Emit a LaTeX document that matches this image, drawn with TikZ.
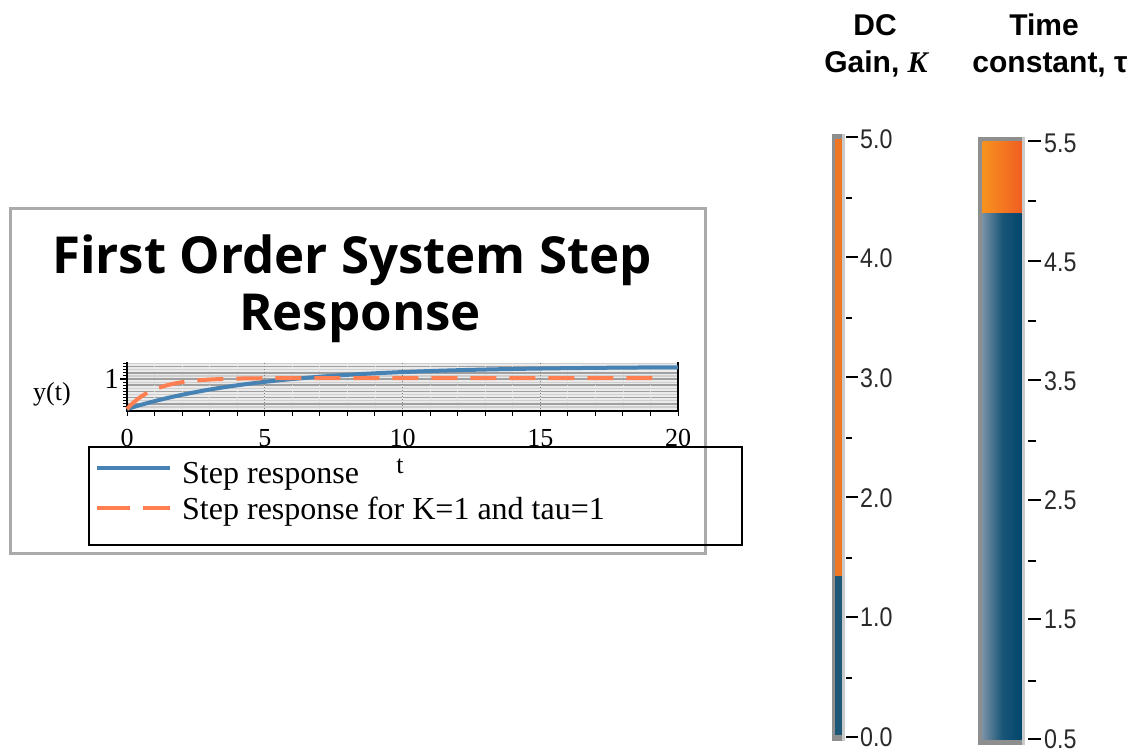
\documentclass[tikz,border=0pt]{standalone}
\usepackage{fontspec}
\setmainfont{Liberation Serif}
\newfontfamily\titlefont{Open Sans}
\newfontfamily\arialfont{Liberation Sans}
\definecolor{stepblue}{HTML}{4682B4}
\definecolor{coral}{HTML}{FF7F50}
\definecolor{plotbg}{HTML}{EBEBEB}
\definecolor{gridmaj}{HTML}{A0A0A0}
\definecolor{gridmin}{HTML}{CFCFCF}
\definecolor{framegray}{HTML}{AAAAAA}
\definecolor{barorange}{HTML}{EF7622}
\definecolor{orangeL}{HTML}{F7921E}
\definecolor{orangeR}{HTML}{F05E22}
\definecolor{barblue}{HTML}{1E5878}
\definecolor{blueL}{HTML}{7890A5}
\definecolor{blueM}{HTML}{1A5678}
\definecolor{blueR}{HTML}{00466C}
\definecolor{barframe}{HTML}{8E8E8E}
\definecolor{barlight}{HTML}{CACACA}
\definecolor{labgray}{HTML}{2A2A2A}
\tikzset{
  ticklab/.style={font=\fontsize{26}{30}\selectfont, anchor=base, inner sep=0pt},
  legtext/.style={font=\fontsize{32}{38}\selectfont, anchor=base west, inner sep=0pt},
  titletext/.style={font=\titlefont\bfseries\fontsize{51}{60}\selectfont, anchor=base, inner sep=0pt},
  headtext/.style={font=\arialfont\bfseries\fontsize{30}{36}\selectfont, anchor=base, inner sep=0pt},
  barlab/.style={font=\arialfont\fontsize{27}{30}\selectfont, text=labgray, anchor=west, inner sep=0pt},
  majtick/.style={draw=black, line width=2pt},
  mintick/.style={draw=black, line width=2pt},
}
\newcommand{\barnum}[1]{\scalebox{0.86}[1]{#1}}
\begin{document}
\begin{tikzpicture}[x=1pt,y=-1pt]
\useasboundingbox (0,0) rectangle (1147,753);
\fill[white] (0,0) rectangle (1147,753);

% ---------- outer frame ----------
\draw[framegray, line width=3pt] (10,208) rectangle (705,553);

% ---------- title ----------
\node[titletext] (title1) at (352,273) {First Order System Step};
\node[titletext] (title2) at (360,330) {Response};

% ---------- plot area ----------
\fill[plotbg] (127,363) rectangle (678,410);
\foreach \v in {0.1,0.3,...,1.5} {
  \draw[gridmin, line width=1.2pt] (127,{410-31*\v}) -- (678,{410-31*\v});
}
\foreach \v in {0.2,0.4,...,1.4} {
  \draw[gridmaj, line width=1.6pt] (127,{410-31*\v}) -- (678,{410-31*\v});
}
\foreach \t in {1,...,19} {
  \draw[white!70!gray, line width=0.8pt, dotted] ({127+27.55*\t},363) -- ({127+27.55*\t},410);
}
\foreach \t in {5,10,15} {
  \draw[gray, line width=1pt, dotted] ({127+27.55*\t},363) -- ({127+27.55*\t},410);
}
% axes
\draw[black, line width=2pt] (127,362) -- (127,411) -- (678,411) -- (678,362);
\foreach \v in {0.1,0.2,...,1.5} {
  \draw[black, line width=1pt] (123,{410-31*\v}) -- (127,{410-31*\v});
}
\draw[black, line width=1.2pt] (120,379) -- (127,379);
\foreach \t in {0,...,20} {
  \draw[black, line width=1pt] ({127+27.55*\t},411) -- ({127+27.55*\t},416);
}
% curves
\draw[stepblue, line width=4pt] plot[domain=0:20, samples=120] ({127+27.55*\x},{409-31*1.37*(1-exp(-\x/4.9))});
\draw[coral, line width=4pt, dash pattern=on 26pt off 13pt] plot[domain=0:19.3, samples=150] ({127+27.55*\x},{409-31*(1-exp(-\x))});

% tick labels
\node[ticklab] (x0) at (127,446) {0};
\node[ticklab] (x5) at (264.75,446) {5};
\node[ticklab] (x10) at (402.5,446) {10};
\node[ticklab] (x15) at (540.25,446) {15};
\node[ticklab] (x20) at (678,446) {20};
\node[ticklab, font=\fontsize{29}{32}\selectfont, anchor=base east] (y1) at (119,388) {1};
\node[ticklab, anchor=base west] (ylab) at (33,400) {y(t)};

% ---------- legend ----------
\draw[black, line width=2pt] (89,447) rectangle (742,545);
\node[ticklab] (tlab) at (400,473) {t};
\coordinate (l1a) at (97,468);
\coordinate (l1b) at (170,468);
\coordinate (l2a) at (97,508);
\coordinate (l2b) at (170,508);
\draw[stepblue, line width=4pt] (l1a) -- (l1b);
\draw[coral, line width=4pt, dash pattern=on 33pt off 13pt] (l2a) -- (l2b);
\node[legtext] (leg1) at (182,483) {Step response};
\node[legtext] (leg2) at (182,519) {Step response for K=1 and tau=1};

% ---------- colour bar: DC gain ----------
\node[headtext] (dc1) at (875,35) {DC};
\node[headtext] (dc2) at (876,72) {Gain, {\rmfamily\itshape K}};
\fill[barframe] (832,134) rectangle (845,741);
\fill[barlight] (842,134) rectangle (845,741);
\fill[barorange] (834.5,139) rectangle (841.5,576);
\fill[barblue] (834.5,576) rectangle (841.5,735);
\foreach \i/\lab in {0/5.0,1/4.0,2/3.0,3/2.0,4/1.0,5/0.0} {
  \draw[majtick] (846,{137+120*\i}) -- (858,{137+120*\i});
  \node[barlab] (dcl\i) at (860,{139+119.6*\i}) {\barnum{\lab}};
}
\foreach \i in {0,...,4} {
  \draw[mintick] (846,{198+120*\i}) -- (852,{198+120*\i});
}

% ---------- colour bar: time constant ----------
\node[headtext] (tc1) at (1044,35) {Time};
\node[headtext] (tc2) at (1050,72) {constant, τ};
\fill[barframe] (978,137) rectangle (1025,745);
\fill[barlight] (1022,137) rectangle (1025,745);
\shade[left color=orangeL, right color=orangeR] (982.5,141.5) rectangle (1021.5,213);
\shade[left color=blueL, right color=blueR, middle color=blueM] (982.5,213) rectangle (1021.5,739);
\foreach \i/\lab in {0/5.5,1/4.5,2/3.5,3/2.5,4/1.5,5/0.5} {
  \draw[majtick] (1028,{141+119.6*\i}) -- (1041,{141+119.6*\i});
  \node[barlab] (tcl\i) at (1044,{143+119.2*\i}) {\barnum{\lab}};
}
\foreach \i in {0,...,4} {
  \draw[mintick] (1028,{201+120*\i}) -- (1036,{201+120*\i});
}
\end{tikzpicture}
\end{document}
